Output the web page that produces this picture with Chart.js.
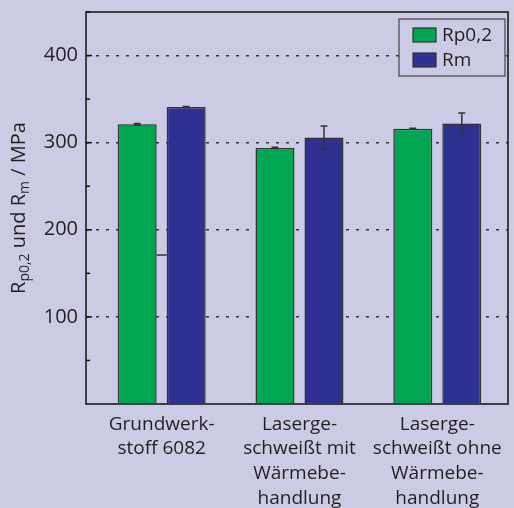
<!DOCTYPE html>
<html>
<head>
<meta charset="utf-8">
<script src="https://cdn.jsdelivr.net/npm/chart.js@4.4.0/dist/chart.umd.min.js"></script>
<style>
  html, body { margin: 0; padding: 0; background: #cbcbe5; }
  #wrap { width: 514px; height: 508px; }
</style>
</head>
<body>
<div id="wrap"><canvas id="chart"></canvas></div>
<script>
const categories = [
  ["Grundwerk-", "stoff 6082"],
  ["Laserge-", "schweißt mit", "Wärmebe-", "handlung"],
  ["Laserge-", "schweißt ohne", "Wärmebe-", "handlung"]
];
const seriesNames = ["Rp0,2", "Rm"];
const rp02 = [321, 294, 316];
const rp02Err = [1, 0.6, 0.6];
const rm = [341, 306, 322];
const rmErr = [0.6, 13, 12];
const yLabelled = [100, 200, 300, 400];
const strayLine = [171, null, null]; // the odd little bar between the first pair

const FONT = "'Open Sans', 'DejaVu Sans', sans-serif";
const TEXT = "#231f20";
const green = "#00a651";
const blue = "#2e3192";

// bars on a linear x scale so the groups sit where they do in the picture
const toPoints = (vals) => vals.map((v, i) => ({ x: i, y: v }));

const extras = {
  id: "extras",
  afterDatasetsDraw(chart) {
    const { ctx, chartArea: a, scales: { y } } = chart;
    ctx.save();

    // error bars
    const errs = [rp02Err, rmErr];
    chart.data.datasets.forEach((ds, di) => {
      const meta = chart.getDatasetMeta(di);
      meta.data.forEach((bar, i) => {
        const v = ds.data[i].y;
        const e = errs[di][i];
        const top = y.getPixelForValue(v + e);
        const bot = y.getPixelForValue(v - e);
        ctx.strokeStyle = "#333";
        ctx.lineWidth = 1.5;
        ctx.beginPath();
        ctx.moveTo(bar.x, top); ctx.lineTo(bar.x, bot);
        ctx.moveTo(bar.x - 3.5, top); ctx.lineTo(bar.x + 3.5, top);
        ctx.moveTo(bar.x - 3.5, bot); ctx.lineTo(bar.x + 3.5, bot);
        ctx.stroke();
      });
    });

    // stray mark between green and blue bars
    const g = chart.getDatasetMeta(0).data;
    const b = chart.getDatasetMeta(1).data;
    strayLine.forEach((v, i) => {
      if (v == null) return;
      const py = y.getPixelForValue(v);
      ctx.strokeStyle = "#333";
      ctx.lineWidth = 1.5;
      ctx.beginPath();
      ctx.moveTo(g[i].x + g[i].width / 2, py);
      ctx.lineTo(b[i].x - b[i].width / 2, py);
      ctx.stroke();
    });

    // frame and inward ticks
    ctx.strokeStyle = "#111";
    ctx.lineWidth = 1.5;
    ctx.strokeRect(a.left, a.top, a.right - a.left, a.bottom - a.top);
    y.ticks.forEach((t) => {
      if (t.value <= 0) return;
      const py = y.getPixelForValue(t.value);
      const len = t.value % 100 === 0 ? 6 : 4;
      ctx.beginPath();
      ctx.moveTo(a.left, py); ctx.lineTo(a.left + len, py);
      ctx.stroke();
    });

    // legend box
    const lx = 399, ly = 19, lw = 106, lh = 57;
    ctx.fillStyle = "#cbcbe5";
    ctx.fillRect(lx, ly, lw, lh);
    ctx.strokeStyle = "#444";
    ctx.lineWidth = 1.2;
    ctx.strokeRect(lx, ly, lw, lh);
    ctx.font = "19px " + FONT;
    ctx.textBaseline = "middle";
    ctx.textAlign = "left";
    chart.data.datasets.forEach((ds, di) => {
      const cy = 35 + di * 25;
      ctx.fillStyle = ds.backgroundColor;
      ctx.fillRect(413, cy - 7, 23, 14);
      ctx.strokeStyle = "#333";
      ctx.lineWidth = 1.2;
      ctx.strokeRect(413, cy - 7, 23, 14);
      ctx.fillStyle = TEXT;
      ctx.fillText(ds.label, 442, cy + 1);
    });

    // y axis title with subscripts
    const parts = [
      ["R", 0], ["p0,2", 1], [" und R", 0], ["m", 1], [" / MPa", 0]
    ];
    const big = "20px " + FONT, small = "14px " + FONT;
    let total = 0;
    parts.forEach(([s, sub]) => { ctx.font = sub ? small : big; total += ctx.measureText(s).width; });
    ctx.translate(25, 208);
    ctx.rotate(-Math.PI / 2);
    ctx.textBaseline = "alphabetic";
    ctx.fillStyle = TEXT;
    let x = -total / 2;
    parts.forEach(([s, sub]) => {
      ctx.font = sub ? small : big;
      ctx.fillText(s, x, sub ? 4 : 0);
      x += ctx.measureText(s).width;
    });
    ctx.restore();
  }
};

new Chart(document.getElementById("chart"), {
  type: "bar",
  data: {
    datasets: [
      { label: seriesNames[0], data: toPoints(rp02), backgroundColor: green, borderColor: "#333", borderWidth: 1.5 },
      { label: seriesNames[1], data: toPoints(rm), backgroundColor: blue, borderColor: "#333", borderWidth: 1.5 }
    ]
  },
  options: {
    responsive: true,
    maintainAspectRatio: false,
    animation: false,
    categoryPercentage: 0.711,
    barPercentage: 0.796,
    layout: { padding: { left: 0, top: 12, right: 6, bottom: 0 } },
    plugins: {
      legend: { display: false },
      tooltip: { enabled: false }
    },
    scales: {
      x: {
        type: "linear",
        offset: false,
        min: -0.549,
        max: 2.513,
        afterBuildTicks: (s) => { s.ticks = categories.map((c, i) => ({ value: i })); },
        afterFit: (s) => { s.height = 104; s.paddingLeft = 0; s.paddingRight = 0; },
        grid: { display: false, drawTicks: false, offset: false },
        border: { display: false },
        ticks: {
          callback: (v) => categories[v],
          font: { family: FONT, size: 19, lineHeight: 1.3 },
          color: TEXT,
          padding: 8,
          maxRotation: 0,
          autoSkip: false
        }
      },
      y: {
        min: 0,
        max: 450,
        afterFit: (s) => { s.width = 86; s.paddingTop = 0; s.paddingBottom = 0; },
        grid: {
          drawTicks: false,
          color: (c) => (c.tick && yLabelled.includes(c.tick.value) ? "#333" : "rgba(0,0,0,0)"),
          lineWidth: 1.5
        },
        border: { display: false, dash: [3, 7] },
        ticks: {
          stepSize: 50,
          callback: (v) => (yLabelled.includes(v) ? String(v) : ""),
          font: { family: FONT, size: 20 },
          color: TEXT,
          padding: 8
        }
      }
    }
  },
  plugins: [extras]
});
</script>
</body>
</html>
